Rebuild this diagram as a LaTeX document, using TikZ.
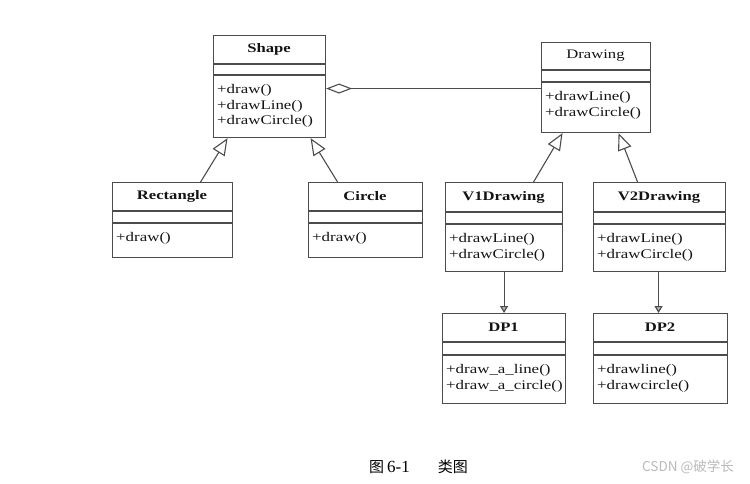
\documentclass[tikz,border=0pt]{standalone}
\usepackage{fontspec}
\setmainfont{Liberation Serif}[FakeStretch=1.28]
\newfontfamily\capfont{Liberation Serif}
\newfontfamily\cjk{Noto Sans CJK SC}
\usetikzlibrary{arrows.meta,calc}
\definecolor{lc}{gray}{0.3}
\definecolor{tc}{gray}{0.08}
\tikzset{
  clsbox/.style={draw=lc, line width=1.1pt, anchor=north west, inner sep=0pt},
  sepline/.style={draw=lc, line width=1.1pt},
  ttl/.style={font=\fontsize{13}{15}\selectfont, text=tc, inner sep=0pt},
  mth/.style={font=\fontsize{13.2}{15.8}\selectfont, text=tc, align=left, anchor=north west, inner sep=0pt},
  gen/.style={draw=lc, line width=1.1pt, -{Triangle[open,length=17pt,width=14pt]}},
  dep/.style={draw=lc, line width=1.1pt, -{Triangle[length=7pt,width=8pt,fill=gray!60]}},
  agg/.style={draw=lc, line width=1.1pt, {Diamond[open,length=26pt,width=10pt]}-},
}
\newcommand\umlclass[9]{%
  \node[clsbox, minimum width={#4-#2}, minimum height={#5-#3}] (#1) at (#2,#3) {};
  \draw[sepline] (#2,#6) -- (#4,#6);
  \draw[sepline] (#2,#7) -- (#4,#7);
  \node[ttl] (#1-t) at ({(#2+#4)/2},{(#3+#6)/2}) {#8};
  \node[mth] (#1-m) at ({#2+4},{#7+9}) {#9};
}
\begin{document}
\begin{tikzpicture}[x=1pt,y=-1pt]
\useasboundingbox (0,0) rectangle (750,484);
\umlclass{shape}{213}{35}{325}{137}{64}{75}{\textbf{Shape}}{+draw()\\+drawLine()\\+drawCircle()}
\umlclass{drawing}{541}{42}{650}{132}{70}{82}{Drawing}{+drawLine()\\+drawCircle()}
\umlclass{rect}{112}{182}{232}{257}{211}{223}{\textbf{Rectangle}}{+draw()}
\umlclass{circle}{308}{182}{422}{257}{211}{223}{\textbf{Circle}}{+draw()}
\umlclass{vone}{445}{182}{562}{271}{212}{224}{\textbf{V1Drawing}}{+drawLine()\\+drawCircle()}
\umlclass{vtwo}{593}{182}{725}{271}{212}{224}{\textbf{V2Drawing}}{+drawLine()\\+drawCircle()}
\umlclass{dpone}{442}{313}{565}{403}{342}{355}{\textbf{DP1}}{+draw\_a\_line()\\+draw\_a\_circle()}
\umlclass{dptwo}{593}{313}{727}{403}{342}{355}{\textbf{DP2}}{+drawline()\\+drawcircle()}
% generalizations
\draw[gen] ([xshift=28pt]rect.north) -- ([xshift=-42pt]shape.south);
\draw[gen] ([xshift=-28pt]circle.north) -- ([xshift=41pt]shape.south);
\draw[gen] ([xshift=29.5pt]vone.north) -- ([xshift=-33.5pt]drawing.south);
\draw[gen] ([xshift=-22pt]vtwo.north) -- ([xshift=22.5pt]drawing.south);
% dependencies
\draw[dep] (vone.south) -- (dpone.north);
\draw[dep] ([xshift=-1pt]vtwo.south) -- ([xshift=-1pt]vtwo.south |- dptwo.north);
% aggregation
\draw[agg] ([yshift=-2pt]shape.east) -- ([yshift=-2pt]shape.east -| drawing.west);
% caption
\node[anchor=west, inner sep=0pt, text=black, font=\fontsize{15}{17}\selectfont] (cap) at (369,467) {{\cjk 图}\hspace{3pt}{\capfont\fontsize{17}{17}\selectfont 6-1}\hspace{28pt}{\cjk 类图}};
\node[anchor=west, inner sep=0pt, text=gray!55, font=\cjk\fontsize{13.5}{15}\selectfont] (wm) at (642,467) {CSDN @破学长};
\end{tikzpicture}
\end{document}
